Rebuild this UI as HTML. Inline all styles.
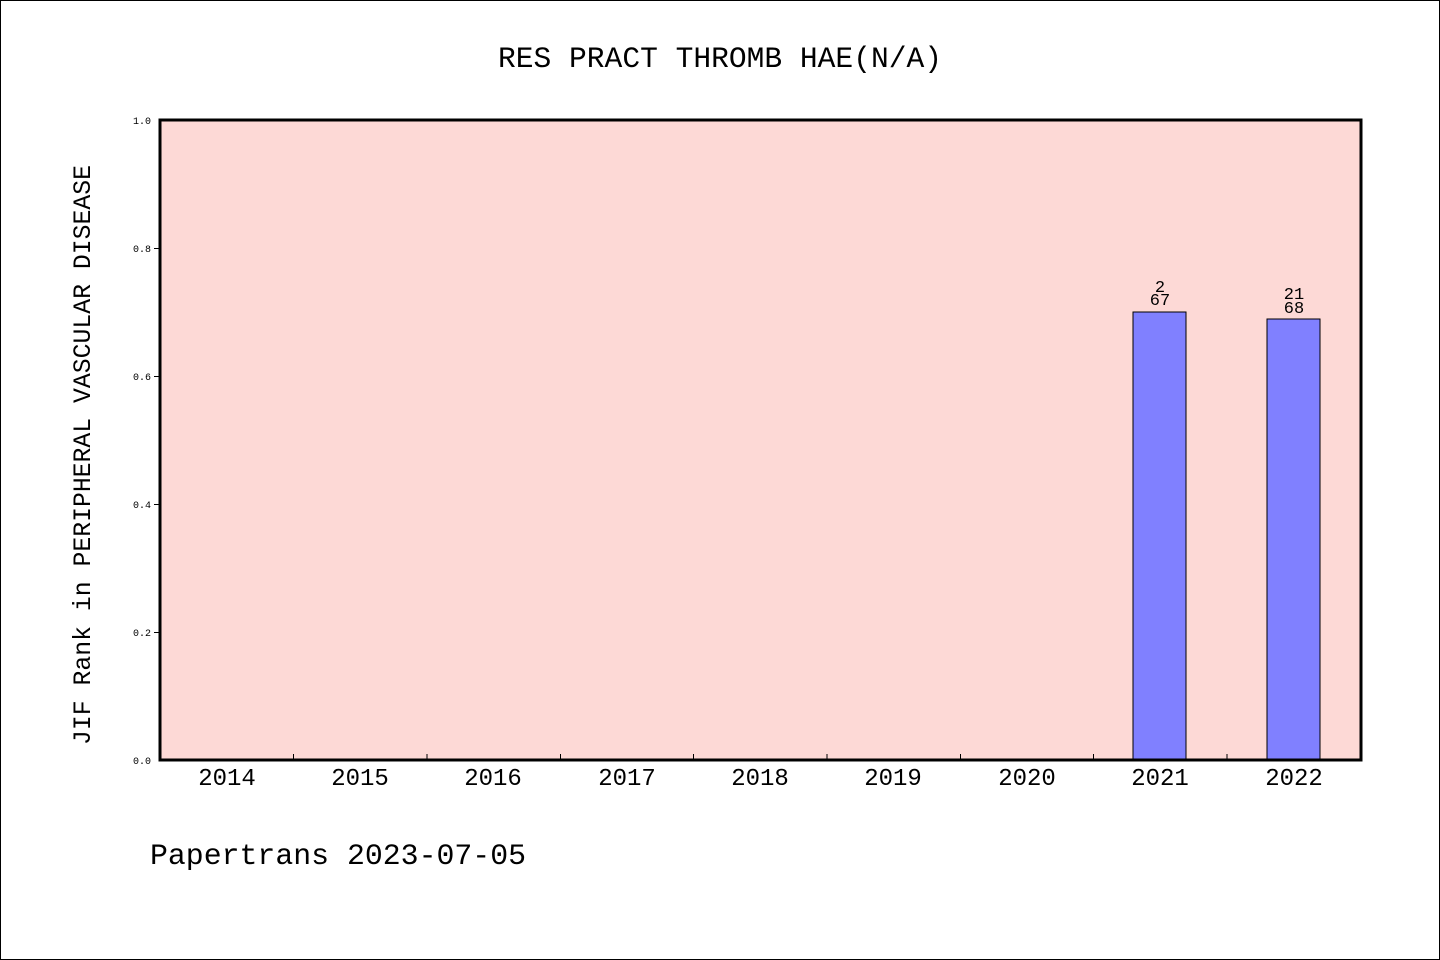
<!DOCTYPE html>
<html><head><meta charset="utf-8"><style>
html,body{margin:0;padding:0;background:#fff}
svg{display:block}
text{font-family:"Liberation Mono",monospace;fill:#000}
</style></head><body>
<svg width="1440" height="960" viewBox="0 0 1440 960" xmlns="http://www.w3.org/2000/svg">
<rect x="0.5" y="0.5" width="1439" height="959" fill="#fff" stroke="#000" stroke-width="1"/>
<text x="498" y="67" font-size="30" textLength="444" lengthAdjust="spacingAndGlyphs">RES PRACT THROMB HAE(N/A)</text>
<rect x="160" y="120" width="1201" height="640" fill="#fdd9d6"/>
<rect x="1133" y="312" width="53" height="448" fill="#8080ff" stroke="#000" stroke-width="1"/>
<rect x="1267" y="319" width="53" height="441" fill="#8080ff" stroke="#000" stroke-width="1"/>
<text x="1160" y="292" font-size="17" text-anchor="middle">2</text>
<text x="1160" y="305" font-size="17" text-anchor="middle">67</text>
<text x="1294" y="299" font-size="17" text-anchor="middle">21</text>
<text x="1294" y="313" font-size="17" text-anchor="middle">68</text>
<g stroke="#000" stroke-width="1">
<line x1="293.5" y1="760" x2="293.5" y2="754"/><line x1="427" y1="760" x2="427" y2="754"/>
<line x1="560.5" y1="760" x2="560.5" y2="754"/><line x1="693.5" y1="760" x2="693.5" y2="754"/>
<line x1="827" y1="760" x2="827" y2="754"/><line x1="960.5" y1="760" x2="960.5" y2="754"/>
<line x1="1093.5" y1="760" x2="1093.5" y2="754"/><line x1="1227" y1="760" x2="1227" y2="754"/>
<line x1="154" y1="248.5" x2="160" y2="248.5"/><line x1="154" y1="376.5" x2="160" y2="376.5"/>
<line x1="154" y1="504.5" x2="160" y2="504.5"/><line x1="154" y1="632.5" x2="160" y2="632.5"/>
</g>
<rect x="160" y="120" width="1201" height="640" fill="none" stroke="#000" stroke-width="3"/>
<g font-size="10" text-anchor="end">
<text x="151" y="124">1.0</text><text x="151" y="252">0.8</text><text x="151" y="380">0.6</text>
<text x="151" y="508">0.4</text><text x="151" y="636">0.2</text><text x="151" y="764">0.0</text>
</g>
<g font-size="24" text-anchor="middle">
<text x="227" y="785">2014</text><text x="360" y="785">2015</text><text x="493" y="785">2016</text>
<text x="627" y="785">2017</text><text x="760" y="785">2018</text><text x="893" y="785">2019</text>
<text x="1027" y="785">2020</text><text x="1160" y="785">2021</text><text x="1294" y="785">2022</text>
</g>
<text transform="translate(90,745) rotate(-90)" font-size="25" textLength="580" lengthAdjust="spacingAndGlyphs">JIF Rank in PERIPHERAL VASCULAR DISEASE</text>
<text x="150" y="864" font-size="30" textLength="376" lengthAdjust="spacingAndGlyphs">Papertrans 2023-07-05</text>
</svg>
</body></html>
